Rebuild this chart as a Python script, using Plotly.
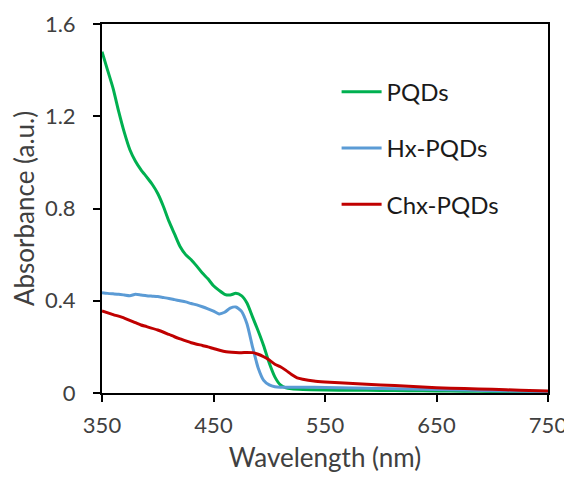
import plotly.graph_objects as go

# Data
pqd_wl = [350, 355, 360, 365, 370, 375, 380, 385, 390, 395, 400, 405, 410, 415, 420, 425, 430, 435, 440,
          445, 450, 455, 460, 465, 470, 475, 480, 485, 490, 495, 500, 505, 510, 515, 520, 530, 550, 575,
          600, 625, 650, 675, 700, 725, 750]
pqd_abs = [1.48, 1.40, 1.32, 1.22, 1.13, 1.055, 1.005, 0.968, 0.937, 0.905, 0.865, 0.81, 0.745, 0.69, 0.635, 0.60,
           0.578, 0.55, 0.52, 0.495, 0.465, 0.445, 0.428, 0.425, 0.432, 0.422, 0.39, 0.33, 0.27, 0.205,
           0.13, 0.07, 0.035, 0.022, 0.018, 0.015, 0.013, 0.012, 0.011, 0.010, 0.009, 0.008, 0.007,
           0.006, 0.005]

hx_wl = [350, 355, 360, 365, 370, 375, 380, 385, 390, 395, 400, 405, 410, 415, 420, 425, 430, 435, 440,
         445, 450, 455, 460, 465, 470, 475, 480, 485, 490, 495, 500, 505, 510, 530, 550, 600, 650, 700, 750]
hx_abs = [0.435, 0.432, 0.43, 0.428, 0.425, 0.422, 0.428, 0.425, 0.422, 0.42, 0.418, 0.414, 0.41, 0.405,
          0.40, 0.395, 0.388, 0.382, 0.374, 0.365, 0.355, 0.343, 0.35, 0.368, 0.373, 0.355, 0.30, 0.20,
          0.11, 0.055, 0.035, 0.027, 0.025, 0.025, 0.024, 0.02, 0.015, 0.01, 0.006]

chx_wl = [350, 360, 370, 380, 385, 390, 400, 410, 415, 420, 430, 440, 445, 450, 460, 470, 475, 480, 485,
          490, 495, 500, 505, 510, 515, 520, 525, 530, 540, 550, 575, 600, 625, 650, 675, 700, 725, 750]
chx_abs = [0.356, 0.34, 0.325, 0.305, 0.295, 0.288, 0.273, 0.254, 0.244, 0.235, 0.218, 0.206, 0.20, 0.193,
           0.18, 0.176, 0.175, 0.176, 0.175, 0.168, 0.157, 0.143, 0.125, 0.114, 0.098, 0.08, 0.066, 0.06,
           0.052, 0.048, 0.041, 0.035, 0.029, 0.023, 0.019, 0.016, 0.012, 0.009]

x_ticks = [350, 450, 550, 650, 750]
y_ticks = [0, 0.4, 0.8, 1.2, 1.6]
y_tick_text = ["0", "0.4", "0.8", "1.2", "1.6"]

series = [
    ("PQDs", pqd_wl, pqd_abs, "#00B050"),
    ("Hx-PQDs", hx_wl, hx_abs, "#5B9BD5"),
    ("Chx-PQDs", chx_wl, chx_abs, "#C00000"),
]

FONT = "Lato, 'Open Sans', sans-serif"
TXT = "#404040"

fig = go.Figure()
for name, x, y, c in series:
    fig.add_trace(go.Scatter(x=x, y=y, mode="lines", name=name, legendgroup=name,
                             line=dict(color=c, width=3, shape="spline", smoothing=0.6)))

fig.update_layout(
    width=564, height=465,
    margin=dict(l=94, r=24, t=16, b=80),
    paper_bgcolor="white", plot_bgcolor="white",
    font=dict(family=FONT, color=TXT, size=22),
    showlegend=True,
    legend=dict(x=0.526, y=0.876, xanchor="left", yanchor="top",
                font=dict(size=24, color="#1a1a1a", family=FONT),
                bgcolor="rgba(0,0,0,0)", tracegroupgap=22, itemwidth=40),
)
fig.update_xaxes(range=[350, 750], tickvals=x_ticks, ticks="outside", ticklen=7,
                 tickwidth=2, tickcolor="#000", showline=True, linecolor="#000", linewidth=2,
                 mirror=True, showgrid=False, zeroline=False, ticklabelstandoff=5, automargin=False,
                 ticklabeloverflow="allow",
                 title=dict(text="Wavelength (nm)", font=dict(size=26, color=TXT), standoff=20))
fig.update_yaxes(range=[0, 1.6], tickvals=y_ticks, ticktext=y_tick_text,
                 ticks="outside", ticklen=7, tickwidth=2, tickcolor="#000", showline=True,
                 linecolor="#000", linewidth=2, mirror=True, showgrid=False, zeroline=False,
                 ticklabelstandoff=13, automargin=False,
                 title=dict(text="Absorbance (a.u.)", font=dict(size=26, color=TXT), standoff=18))

fig.write_html("out.html")
